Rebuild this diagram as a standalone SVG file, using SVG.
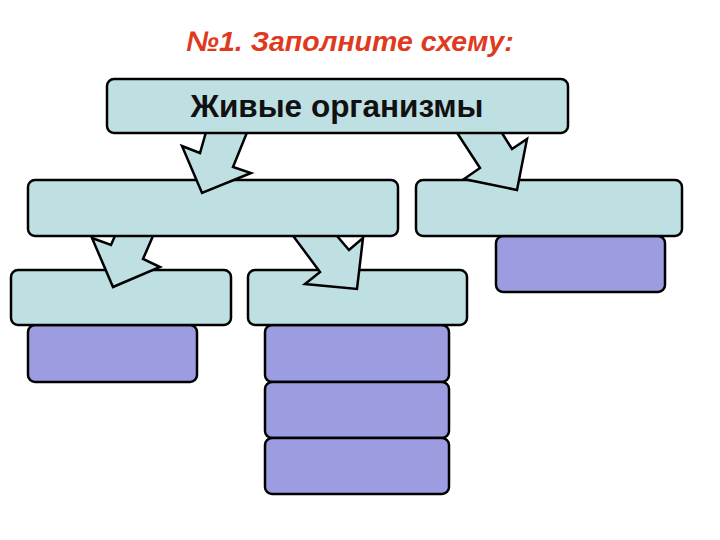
<svg xmlns="http://www.w3.org/2000/svg" width="720" height="540" viewBox="0 0 720 540">
  <style>
    .box { fill: #bfe0e3; stroke: #000; stroke-width: 2.5; }
    .sub { fill: #9c9ce0; stroke: #000; stroke-width: 2.5; }
    .arrow { fill: #bfe0e3; stroke: #000; stroke-width: 2.5; stroke-linejoin: miter; }
    .title { font-family: "Liberation Sans", Arial, sans-serif; font-size: 28.5px; font-weight: bold; font-style: italic; fill: #e03a1e; }
    .label { font-family: "Liberation Sans", Arial, sans-serif; font-size: 31.5px; font-weight: bold; fill: #111; }
  </style>
  <rect width="720" height="540" fill="#fff"/>
  <text class="title" x="350" y="51" text-anchor="middle">№1. Заполните схему:</text>

  <g id="sub-left">
    <rect class="sub" x="28" y="325" width="169" height="57" rx="7"/>
  </g>
  <g id="sub-mid-1">
    <rect class="sub" x="265" y="325" width="184" height="57" rx="7"/>
  </g>
  <g id="sub-mid-2">
    <rect class="sub" x="265" y="382" width="184" height="56" rx="7"/>
  </g>
  <g id="sub-mid-3">
    <rect class="sub" x="265" y="438" width="184" height="56" rx="7"/>
  </g>
  <g id="level3-left">
    <rect class="box" x="11" y="270" width="220" height="55" rx="7"/>
  </g>
  <g id="level3-mid">
    <rect class="box" x="248" y="270" width="219" height="55" rx="7"/>
  </g>

  <g id="connectors-lower">
    <polygon class="arrow" points="118,229 111,245 92,238 113,287 160,267 143,259 156,229"/>
    <polygon class="arrow" points="288,229 320,272 305,284 357,289 363,238 349,250 331,229"/>
  </g>

  <g id="sub-right">
    <rect class="sub" x="496" y="236" width="169" height="56" rx="7"/>
  </g>
  <g id="level2-left">
    <rect class="box" x="28" y="180" width="370" height="56" rx="7"/>
  </g>
  <g id="level2-right">
    <rect class="box" x="416" y="180" width="266" height="56" rx="7"/>
  </g>

  <g id="connectors-upper">
    <polygon class="arrow" points="208,125 200,153 182,146 202,193 251,173 233,167 250,125"/>
    <polygon class="arrow" points="452,125 480,168 464,179 517,190 527,139 512,149 497,125"/>
  </g>

  <g id="root">
    <rect class="box" x="107" y="79" width="461" height="54" rx="7"/>
    <text class="label" x="337" y="117" text-anchor="middle">Живые организмы</text>
  </g>
</svg>
